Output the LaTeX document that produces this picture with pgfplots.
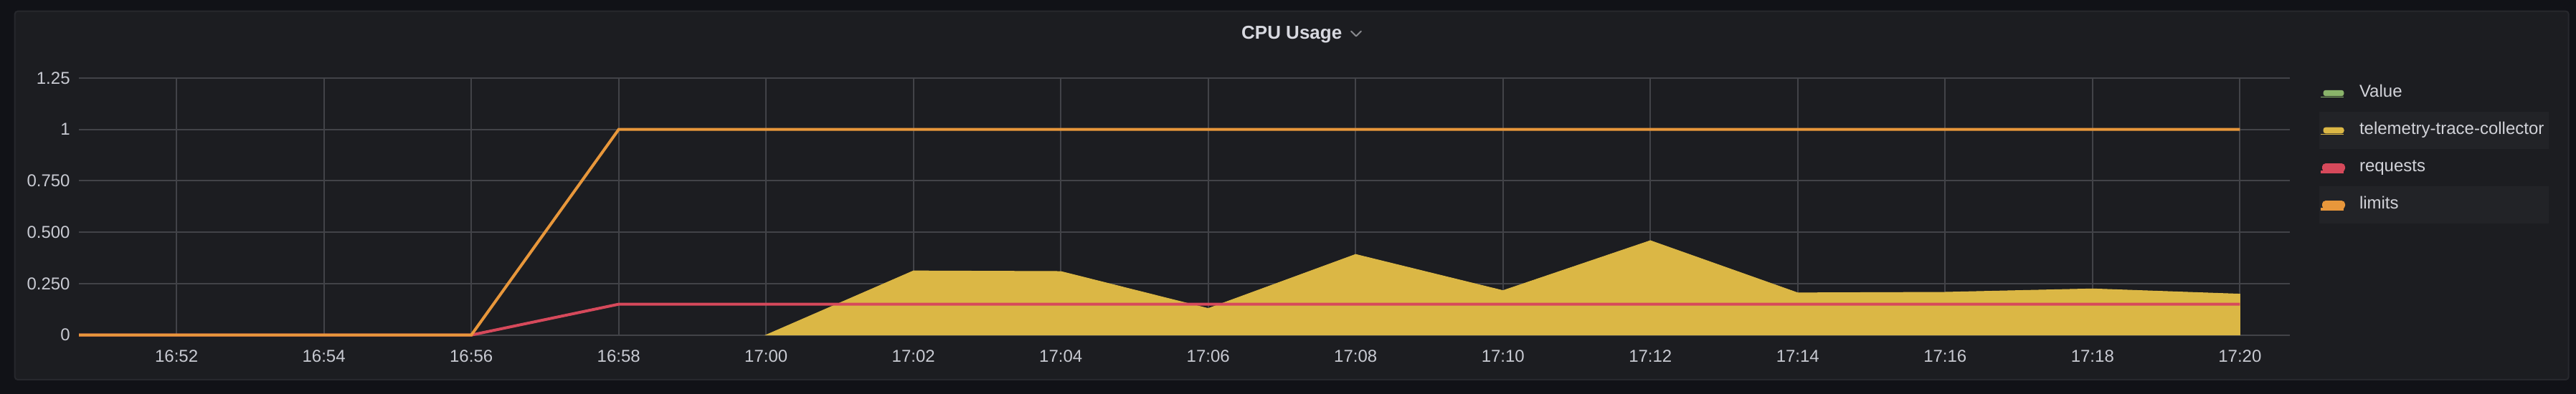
\documentclass[border=0pt]{standalone}
\usepackage{fontspec}
\setmainfont{Liberation Sans}
\usepackage{pgfplots}
\pgfplotsset{compat=1.18}
\definecolor{outerbg}{HTML}{111217}
\definecolor{panelbg}{HTML}{1C1D21}
\definecolor{panelborder}{HTML}{27282D}
\definecolor{rowbg}{HTML}{222327}
\definecolor{gridc}{HTML}{424348}
\definecolor{tickc}{HTML}{C8CAD2}
\definecolor{legendc}{HTML}{D2D3D9}
\definecolor{titlec}{HTML}{D8D9E0}
\definecolor{chevc}{HTML}{8A8B90}
\definecolor{cGreen}{HTML}{8AB46A}
\definecolor{cYellow}{HTML}{DBB745}
\definecolor{cRed}{HTML}{D6495B}
\definecolor{cOrange}{HTML}{E8973B}
\begin{document}
\begin{tikzpicture}
\fill[outerbg] (0,0) rectangle (1796pt,275pt);
\filldraw[fill=panelbg, draw=panelborder, line width=1pt, rounded corners=2pt] (10.35pt,10pt) rectangle (1790.85pt,267.15pt);
\fill[rowbg] (1617pt,171.15pt) rectangle (1777pt,197pt);
\fill[rowbg] (1617pt,119.15pt) rectangle (1777pt,145pt);
\node[anchor=base, font=\bfseries\fontsize{13}{15}\selectfont, text=titlec, inner sep=0pt] at (900.6pt,247.5pt) {CPU Usage};
\draw[chevc, line width=1pt, line cap=round, line join=round] (942pt,253.25pt) -- (945.5pt,249.75pt) -- (949pt,253.25pt);
\begin{axis}[
  at={(55pt,41.15pt)}, anchor=south west,
  scale only axis, width=1541.35pt, height=179.35pt,
  xmin=0.675, xmax=30.675, ymin=0, ymax=1.25,
  clip=false,
  axis line style={draw=none},
  major tick length=0pt,
  xtick={2,4,...,30},
  xticklabels={16:52,16:54,16:56,16:58,17:00,17:02,17:04,17:06,17:08,17:10,17:12,17:14,17:16,17:18,17:20},
  ytick={0,0.25,0.5,0.75,1,1.25},
  yticklabels={0,0.250,0.500,0.750,1,1.25},
  grid=major,
  major grid style={draw=gridc, line width=1pt},
  /pgf/number format/assume math mode=true,
  ticklabel style={font=\fontsize{12}{14}\selectfont, text=tickc},
  xticklabel style={anchor=base, inner sep=0pt, yshift=-19.15pt},
  yticklabel style={anchor=east, inner sep=0pt, xshift=-6pt},
  legend style={at={(1.0134,1.01394)}, anchor=north west, draw=none, fill=none,
    inner sep=0pt, outer sep=0pt, row sep=0pt, column sep=10pt,
    nodes={inner sep=0pt, text height=15.9pt, text depth=10.1pt, anchor=base west,
      font=\fontsize{12}{14}\selectfont, text=legendc}},
  legend cell align=left,
  legend image code/.code={\path (0pt,0pt) -- (16pt,0pt);
    \fill[#1, rounded corners=1.5pt] (2pt,1pt) rectangle (16pt,4.8pt);},
]
\addlegendimage{color=cGreen}
\addlegendentry{Value}
\addplot[color=cYellow, fill=cYellow, line width=0.5pt] coordinates {
 (10,0) (12,0.312) (14,0.309) (16,0.129) (18,0.392) (20,0.216)
 (22,0.459) (24,0.205) (26,0.208) (28,0.2245) (30,0.199)} \closedcycle;
\addlegendentry{telemetry-trace-collector}
\addplot[color=cRed, line width=2pt] coordinates {
 (0.675,0) (2,0) (4,0) (6,0) (8,0.15) (10,0.15) (12,0.15) (14,0.15) (16,0.15)
 (18,0.15) (20,0.15) (22,0.15) (24,0.15) (26,0.15) (28,0.15) (30,0.15)};
\addlegendentry{requests}
\addplot[color=cOrange, line width=2pt] coordinates {
 (0.675,0) (2,0) (4,0) (6,0) (8,1) (10,1) (12,1) (14,1) (16,1)
 (18,1) (20,1) (22,1) (24,1) (26,1) (28,1) (30,1)};
\addlegendentry{limits}
\end{axis}
\end{tikzpicture}
\end{document}
